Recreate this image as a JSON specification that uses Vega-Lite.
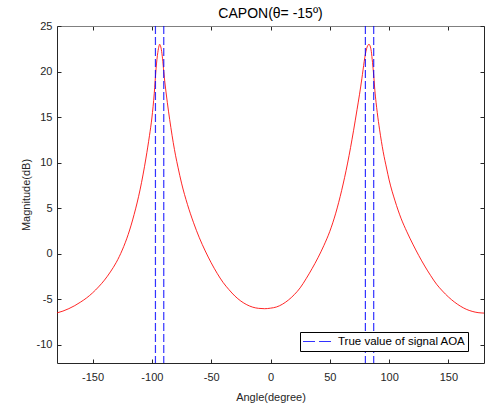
{
  "$schema": "https://vega.github.io/schema/vega-lite/v6.json",
  "width": 427,
  "height": 337,
  "autosize": "none",
  "padding": {"left": 57, "top": 26, "right": 2, "bottom": 45},
  "background": "white",
  "config": {"view": {"stroke": null}, "font": "Liberation Sans"},
  "title": {"text": "CAPON(θ= -15º)", "fontSize": 14, "fontWeight": "normal", "color": "#000000", "offset": -1, "anchor": "middle"},
  "datasets": {
    "curve": [
      {"angle": -180, "db": -6.5}, {"angle": -175, "db": -6.3}, {"angle": -170, "db": -6.03}, {"angle": -165, "db": -5.7},
      {"angle": -160, "db": -5.3}, {"angle": -155, "db": -4.85}, {"angle": -150, "db": -4.3}, {"angle": -145, "db": -3.65},
      {"angle": -140, "db": -2.9}, {"angle": -135, "db": -2.0}, {"angle": -130, "db": -0.95}, {"angle": -125, "db": 0.4},
      {"angle": -120, "db": 2.1}, {"angle": -115, "db": 4.3}, {"angle": -110, "db": 7.0}, {"angle": -105, "db": 10.5},
      {"angle": -102, "db": 13.0}, {"angle": -100, "db": 14.9}, {"angle": -98, "db": 17.6}, {"angle": -96.5, "db": 20.3},
      {"angle": -95, "db": 22.1}, {"angle": -94, "db": 22.8}, {"angle": -93.5, "db": 23.0}, {"angle": -93, "db": 22.9},
      {"angle": -92, "db": 22.4}, {"angle": -91, "db": 21.4}, {"angle": -90, "db": 20.0}, {"angle": -89, "db": 18.75},
      {"angle": -88, "db": 17.65}, {"angle": -86, "db": 15.65}, {"angle": -84, "db": 13.85}, {"angle": -82, "db": 12.2},
      {"angle": -80, "db": 10.75}, {"angle": -78, "db": 9.5}, {"angle": -75, "db": 7.75}, {"angle": -70, "db": 5.4},
      {"angle": -65, "db": 3.45}, {"angle": -60, "db": 1.75}, {"angle": -55, "db": 0.3}, {"angle": -50, "db": -1.0},
      {"angle": -45, "db": -2.15}, {"angle": -40, "db": -3.15}, {"angle": -35, "db": -3.95}, {"angle": -30, "db": -4.65},
      {"angle": -25, "db": -5.2}, {"angle": -20, "db": -5.6}, {"angle": -15, "db": -5.87}, {"angle": -10, "db": -6.0},
      {"angle": -5, "db": -6.04}, {"angle": 0, "db": -5.98}, {"angle": 5, "db": -5.85}, {"angle": 10, "db": -5.55},
      {"angle": 15, "db": -5.1}, {"angle": 20, "db": -4.5}, {"angle": 25, "db": -3.75}, {"angle": 30, "db": -2.75},
      {"angle": 35, "db": -1.65}, {"angle": 40, "db": -0.45}, {"angle": 45, "db": 0.9}, {"angle": 50, "db": 2.45},
      {"angle": 55, "db": 4.45}, {"angle": 60, "db": 6.95}, {"angle": 65, "db": 9.95}, {"angle": 70, "db": 13.5},
      {"angle": 73, "db": 15.85}, {"angle": 75, "db": 17.45}, {"angle": 77, "db": 19.2}, {"angle": 79, "db": 21.1},
      {"angle": 80, "db": 21.9}, {"angle": 81, "db": 22.5}, {"angle": 82, "db": 22.85}, {"angle": 83, "db": 23.0},
      {"angle": 84, "db": 22.8}, {"angle": 85, "db": 22.2}, {"angle": 86, "db": 21.0}, {"angle": 87, "db": 19.6},
      {"angle": 88, "db": 17.9}, {"angle": 89, "db": 16.6}, {"angle": 90, "db": 15.5}, {"angle": 92, "db": 13.6},
      {"angle": 95, "db": 11.2}, {"angle": 98, "db": 9.3}, {"angle": 100, "db": 8.1}, {"angle": 105, "db": 5.8},
      {"angle": 110, "db": 3.9}, {"angle": 115, "db": 2.4}, {"angle": 120, "db": 1.05}, {"angle": 125, "db": -0.2},
      {"angle": 130, "db": -1.35}, {"angle": 135, "db": -2.4}, {"angle": 140, "db": -3.35}, {"angle": 145, "db": -4.1},
      {"angle": 150, "db": -4.75}, {"angle": 155, "db": -5.3}, {"angle": 160, "db": -5.75}, {"angle": 165, "db": -6.1},
      {"angle": 170, "db": -6.33}, {"angle": 175, "db": -6.47}, {"angle": 180, "db": -6.52}
    ],
    "aoa": [
      {"aoa": -97, "series": "True value of signal AOA"},
      {"aoa": -90, "series": "True value of signal AOA"},
      {"aoa": 80, "series": "True value of signal AOA"},
      {"aoa": 87, "series": "True value of signal AOA"}
    ]
  },
  "resolve": {"axis": {"x": "independent", "y": "independent"}},
  "layer": [
    {
      "data": {"name": "curve"},
      "mark": {"type": "line", "color": "#ff0000", "strokeWidth": 1, "opacity": 0.85, "interpolate": "monotone"},
      "encoding": {
        "x": {"field": "angle", "type": "quantitative",
              "scale": {"domain": [-180, 180], "nice": false, "zero": false},
              "axis": {"orient": "bottom", "title": "Angle(degree)", "values": [-150, -100, -50, 0, 50, 100, 150],
                       "labelExpr": "'' + datum.value",
                       "grid": false, "tickSize": -4, "labelPadding": 12, "domainColor": "#262626", "tickColor": "#262626",
                       "labelColor": "#262626", "labelFontSize": 11, "titleFontSize": 11, "titleFontWeight": "normal",
                       "titleColor": "#262626", "titlePadding": 9}},
        "y": {"field": "db", "type": "quantitative",
              "scale": {"domain": [-12, 25], "nice": false, "zero": false},
              "axis": {"orient": "left", "title": "Magnitude(dB)", "values": [-10, -5, 0, 5, 10, 15, 20, 25],
                       "labelExpr": "'' + datum.value",
                       "grid": false, "tickSize": -4, "labelPadding": 9, "domainColor": "#262626", "tickColor": "#262626",
                       "labelColor": "#262626", "labelFontSize": 11, "titleFontSize": 11, "titleFontWeight": "normal",
                       "titleColor": "#262626", "titlePadding": 5}}
      }
    },
    {
      "data": {"name": "aoa"},
      "mark": {"type": "rule", "strokeDash": [8, 3], "strokeWidth": 1.2, "opacity": 0.8},
      "encoding": {
        "x": {"field": "aoa", "type": "quantitative", "scale": {"domain": [-180, 180], "nice": false, "zero": false},
              "axis": {"orient": "top", "labels": false, "title": null, "values": [-150, -100, -50, 0, 50, 100, 150],
                       "grid": false, "tickSize": -4, "domainColor": "#808080", "tickColor": "#262626"}},
        "color": {"field": "series", "type": "nominal", "scale": {"range": ["#0000ff"]},
                  "legend": {"title": null, "orient": "none", "legendX": 243, "legendY": 306,
                             "symbolType": "stroke", "symbolStrokeWidth": 1.2, "symbolDash": [12, 4], "symbolSize": 840,
                             "clipHeight": 15,
                             "labelFontSize": 11.5, "labelColor": "#000000", "strokeColor": "#000000", "fillColor": "white",
                             "padding": 2, "labelOffset": 5}}
      }
    },
    {
      "data": {"name": "curve"},
      "mark": {"type": "point", "opacity": 0},
      "encoding": {
        "x": {"field": "angle", "type": "quantitative", "scale": {"domain": [-180, 180], "nice": false, "zero": false}, "axis": null},
        "y": {"field": "db", "type": "quantitative", "scale": {"domain": [-12, 25], "nice": false, "zero": false},
              "axis": {"orient": "right", "labels": false, "title": null, "values": [-10, -5, 0, 5, 10, 15, 20, 25],
                       "grid": false, "tickSize": -4, "domainColor": "#262626", "tickColor": "#262626"}}
      }
    }
  ]
}
